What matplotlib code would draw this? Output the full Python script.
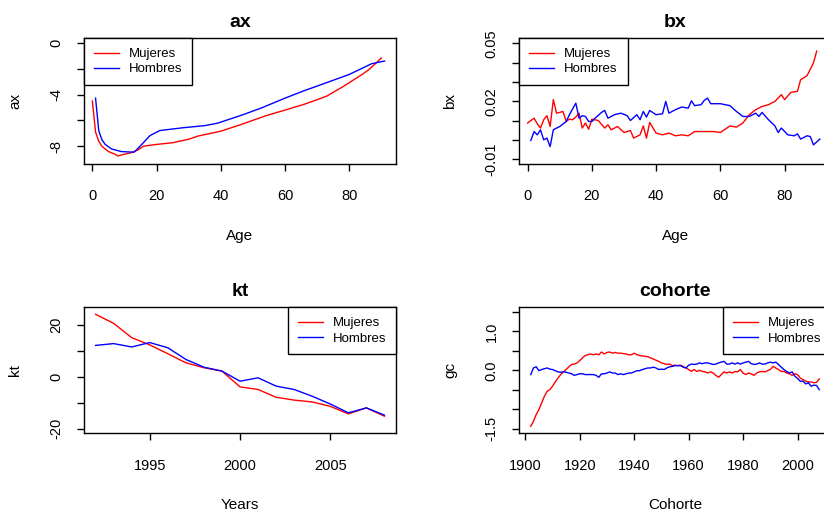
import matplotlib
matplotlib.use("Agg")
import matplotlib.pyplot as plt
from matplotlib.lines import Line2D

plt.rcParams['font.family'] = ['Liberation Sans', 'DejaVu Sans']

# ---------------- data ----------------
series_names = ["Mujeres", "Hombres"]
colors = ["#FF0000", "#0000FF"]

# ax (age effect)
ax_age_m = [0, 1, 2, 3, 4, 5, 7, 8, 10, 12, 14, 16, 20, 25, 30, 33, 40, 46, 54, 60, 66, 70, 73, 78, 84, 86, 88, 90]
ax_m = [-4.50, -6.90, -7.60, -8.00, -8.20, -8.40, -8.60, -8.74, -8.60, -8.50, -8.30, -7.98, -7.85, -7.72,
        -7.45, -7.20, -6.83, -6.34, -5.64, -5.20, -4.75, -4.40, -4.12, -3.40, -2.45, -2.10, -1.65, -1.18]
ax_age_h = [1, 2, 3, 4, 6, 9, 13, 15, 18, 21, 28, 35, 39, 47, 53, 60, 66, 72, 80, 87, 91]
ax_h = [-4.28, -6.80, -7.50, -7.85, -8.20, -8.40, -8.45, -7.95, -7.16, -6.78, -6.57, -6.40, -6.21,
        -5.55, -5.00, -4.28, -3.70, -3.17, -2.45, -1.62, -1.42]

# bx (age sensitivity)
bx_age_m = [0, 2, 3, 4, 5, 6, 7, 8, 9, 10, 11, 12, 13, 14, 15, 16, 17, 18, 19, 20,
            22, 24, 25, 26, 28, 30, 32, 33, 35, 36, 37, 38, 40, 42, 44, 46, 48, 50, 52, 55,
            58, 60, 63, 65, 67, 69, 71, 73, 75, 77, 79, 80, 82, 84, 85, 87, 89, 90]
bx_m = [0.0088, 0.0113, 0.0084, 0.0062, 0.0105, 0.0126, 0.0070, 0.0209, 0.0139, 0.0143,
        0.0148, 0.0096, 0.0108, 0.0105, 0.0119, 0.0139, 0.0062, 0.0088, 0.0056, 0.0108,
        0.0101, 0.0062, 0.0079, 0.0053, 0.0070, 0.0039, 0.0049, 0.0010, 0.0027, 0.0073,
        0.0010, 0.0091, 0.0036, 0.0027, 0.0036, 0.0022, 0.0027, 0.0022, 0.0044, 0.0044,
        0.0044, 0.0039, 0.0073, 0.0067, 0.0088, 0.0131, 0.0157, 0.0174, 0.0183, 0.0200,
        0.0235, 0.0209, 0.0247, 0.0252, 0.0312, 0.0333, 0.0399, 0.0460]
bx_age_h = [1, 2, 3, 4, 5, 6, 7, 8, 9, 10, 12, 13, 15, 16, 17, 18, 19, 20, 21, 23,
            24, 25, 27, 29, 31, 32, 34, 35, 36, 37, 38, 40, 42, 43, 44, 46, 48, 50, 51, 52,
            54, 55, 56, 57, 60, 63, 65, 67, 69, 71, 72, 73, 75, 77, 78, 79, 81, 83, 84, 85,
            87, 88, 89, 91]
bx_h = [-0.0002, 0.0044, 0.0027, 0.0053, 0.0001, 0.0010, -0.0034, 0.0053, 0.0062, 0.0070,
        0.0096, 0.0131, 0.0191, 0.0113, 0.0126, 0.0122, 0.0096, 0.0096, 0.0113, 0.0143,
        0.0153, 0.0113, 0.0131, 0.0139, 0.0126, 0.0101, 0.0131, 0.0105, 0.0148, 0.0119,
        0.0153, 0.0131, 0.0136, 0.0200, 0.0139, 0.0157, 0.0171, 0.0165, 0.0203, 0.0178,
        0.0183, 0.0205, 0.0217, 0.0188, 0.0188, 0.0178, 0.0148, 0.0122, 0.0122, 0.0139,
        0.0122, 0.0143, 0.0105, 0.0073, 0.0039, 0.0062, 0.0027, 0.0022, 0.0032, 0.0005,
        0.0022, 0.0018, -0.0025, 0.0005]

# kt (period index)
kt_years = list(range(1992, 2009))
kt_m = [24.1, 20.6, 15.1, 12.3, 8.9, 5.4, 3.5, 2.2, -3.9, -4.9, -7.9, -9.0, -9.7, -11.4, -14.3, -12.0, -15.2]
kt_h = [12.1, 12.8, 11.5, 13.2, 11.2, 6.7, 3.7, 2.2, -1.7, -0.4, -3.6, -4.9, -7.5, -10.5, -13.9, -12.0, -14.8]

# cohort effect
coh_years = list(range(1902, 2009))
coh_m = [-1.44, -1.31, -1.14, -1.01, -0.84, -0.67, -0.54, -0.50, -0.41, -0.30,
         -0.20, -0.11, -0.04, 0.02, 0.09, 0.15, 0.16, 0.19, 0.25, 0.32,
         0.38, 0.40, 0.42, 0.40, 0.42, 0.40, 0.47, 0.42, 0.46, 0.47,
         0.44, 0.46, 0.44, 0.44, 0.43, 0.42, 0.40, 0.40, 0.44, 0.40,
         0.38, 0.37, 0.36, 0.35, 0.32, 0.29, 0.26, 0.23, 0.19, 0.17,
         0.15, 0.16, 0.12, 0.13, 0.12, 0.13, 0.10, 0.06, 0.02, -0.03,
         0.02, -0.03, 0.00, -0.03, -0.04, -0.07, -0.04, -0.07, -0.13, -0.18,
         -0.11, -0.04, -0.07, -0.04, -0.07, -0.03, -0.04, 0.02, -0.07, -0.11,
         -0.07, -0.09, -0.13, -0.07, -0.04, -0.03, -0.04, -0.01, 0.02, 0.10,
         0.06, 0.02, -0.03, -0.03, -0.07, -0.09, -0.13, -0.09, -0.11, -0.20,
         -0.24, -0.28, -0.30, -0.30, -0.32, -0.31, -0.22]
coh_h = [-0.11, 0.06, 0.09, -0.01, 0.02, 0.04, 0.06, 0.03, 0.02, -0.01,
         -0.04, -0.05, -0.04, -0.05, -0.07, -0.09, -0.13, -0.11, -0.09, -0.09,
         -0.11, -0.11, -0.11, -0.11, -0.13, -0.18, -0.09, -0.09, -0.07, -0.04,
         -0.07, -0.07, -0.11, -0.09, -0.11, -0.09, -0.07, -0.07, -0.04, -0.01,
         -0.01, 0.02, 0.04, 0.06, 0.06, 0.08, 0.06, 0.02, 0.03, 0.02,
         0.06, 0.09, 0.10, 0.12, 0.12, 0.12, 0.08, 0.06, 0.13, 0.16,
         0.15, 0.16, 0.19, 0.17, 0.19, 0.19, 0.17, 0.15, 0.16, 0.19,
         0.21, 0.23, 0.16, 0.16, 0.19, 0.16, 0.19, 0.16, 0.19, 0.21,
         0.23, 0.17, 0.15, 0.16, 0.19, 0.16, 0.16, 0.19, 0.21, 0.19,
         0.21, 0.15, 0.08, 0.02, -0.03, -0.07, -0.04, -0.15, -0.21, -0.28,
         -0.28, -0.35, -0.32, -0.41, -0.38, -0.39, -0.50]

# ---------------- layout ----------------
W, H = 824, 511
DPI = 100
fig = plt.figure(figsize=(W / DPI, H / DPI), dpi=DPI)
fig.patch.set_facecolor("white")

PX = 72.0 / DPI  # points per pixel


def add_axes_px(x0, y0, x1, y1):
    return fig.add_axes([x0 / W, 1 - y1 / H, (x1 - x0) / W, (y1 - y0) / H])


def style_panel(ax, box, title, xlabel, ylabel, xlim, ylim, xticks, xlabels, yticks, ylabels,
                legend_loc):
    x0, y0, x1, y1 = box
    ax.set_xlim(*xlim)
    ax.set_ylim(*ylim)
    for s in ax.spines.values():
        s.set_linewidth(1.0)
        s.set_color("black")
    ax.set_xticks(xticks)
    ax.set_xticklabels(xlabels)
    ax.set_yticks(yticks)
    ax.set_yticklabels(ylabels, rotation=90, va="center")
    ax.tick_params(axis="x", direction="out", length=7 * PX, width=1.0 * PX / 0.72,
                   pad=18.5 * PX, labelsize=10.5, colors="black")
    ax.tick_params(axis="y", direction="out", length=7 * PX, width=1.0 * PX / 0.72,
                   pad=13.5 * PX, labelsize=10.5, colors="black")
    # title
    fig.text((x0 + x1) / 2 / W, 1 - (y0 - 11) / H, title, ha="center", va="baseline",
             fontsize=14, fontweight="bold")
    fig.text((x0 + x1) / 2 / W, 1 - (y1 + 76) / H, xlabel, ha="center", va="baseline",
             fontsize=11)
    fig.text((x0 - 65) / W, 1 - ((y0 + y1) / 2) / H, ylabel, ha="center", va="baseline",
             rotation=90, rotation_mode="anchor", fontsize=11)
    handles = [Line2D([0], [0], color=c, lw=1.0) for c in colors]
    leg = ax.legend(handles, series_names, loc=legend_loc, borderaxespad=0,
                    fontsize=9.5, fancybox=False, framealpha=1, edgecolor="black",
                    handlelength=1.9, handletextpad=0.76, borderpad=0.75, labelspacing=0.22)
    leg.get_frame().set_linewidth(1.0)


LW = 1.0

# ax panel
box = (84, 38, 396, 164)
a1 = add_axes_px(*box)
a1.plot(ax_age_m, ax_m, color=colors[0], lw=LW)
a1.plot(ax_age_h, ax_h, color=colors[1], lw=LW)
style_panel(a1, box, "ax", "Age", "ax", (-2.6, 94.55), (-9.36, 0.36),
            [0, 20, 40, 60, 80], ["0", "20", "40", "60", "80"],
            [-8, -6, -4, -2, 0], ["-8", "", "-4", "", "0"], "upper left")

# bx panel
box = (519.3, 38, 831.3, 164)
a2 = add_axes_px(*box)
a2.plot(bx_age_m, bx_m, color=colors[0], lw=LW)
a2.plot(bx_age_h, bx_h, color=colors[1], lw=LW)
style_panel(a2, box, "bx", "Age", "bx", (-2.6, 94.55), (-0.0124, 0.0528),
            [0, 20, 40, 60, 80], ["0", "20", "40", "60", "80"],
            [-0.01, 0.0, 0.01, 0.02, 0.03, 0.04, 0.05],
            ["-0.01", "", "", "0.02", "", "", "0.05"], "upper left")

# kt panel
box = (84, 307.3, 396, 433.3)
a3 = add_axes_px(*box)
a3.plot(kt_years, kt_m, color=colors[0], lw=LW)
a3.plot(kt_years, kt_h, color=colors[1], lw=LW)
style_panel(a3, box, "kt", "Years", "kt", (1991.36, 2008.64), (-21.8, 26.8),
            [1995, 2000, 2005], ["1995", "2000", "2005"],
            [-20, -10, 0, 10, 20], ["-20", "", "0", "", "20"], "upper right")

# cohort panel
box = (519.3, 307.3, 831.3, 433.3)
a4 = add_axes_px(*box)
a4.plot(coh_years, coh_m, color=colors[0], lw=LW)
a4.plot(coh_years, coh_h, color=colors[1], lw=LW)
style_panel(a4, box, "cohorte", "Cohorte", "gc", (1897.8, 2012.4), (-1.62, 1.62),
            [1900, 1920, 1940, 1960, 1980, 2000],
            ["1900", "1920", "1940", "1960", "1980", "2000"],
            [-1.5, -1.0, -0.5, 0.0, 0.5, 1.0, 1.5],
            ["-1.5", "", "", "0.0", "", "1.0", ""], "upper right")

fig.savefig("out.png", dpi=DPI)
